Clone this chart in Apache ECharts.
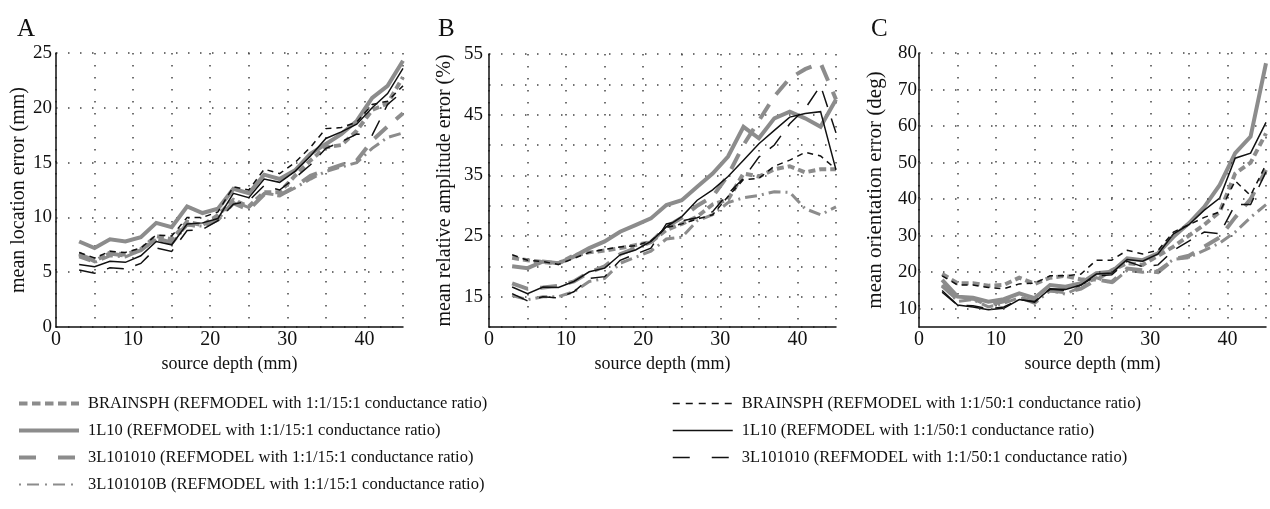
<!DOCTYPE html>
<html><head><meta charset="utf-8">
<script src="https://cdn.jsdelivr.net/npm/echarts@6/dist/echarts.min.js"></script>
<style>html,body{margin:0;padding:0;background:#fff}#c{width:1270px;height:509px}</style>
</head><body><div id="c"></div>
<script>
const depth = [3,5,7,9,11,13,15,17,19,21,23,25,27,29,31,33,35,37,39,41,43,45];
const seriesNames = [
  'BRAINSPH (REFMODEL with 1:1/15:1 conductance ratio)',
  '1L10 (REFMODEL with 1:1/15:1 conductance ratio)',
  '3L101010 (REFMODEL with 1:1/15:1 conductance ratio)',
  '3L101010B (REFMODEL with 1:1/15:1 conductance ratio)',
  'BRAINSPH (REFMODEL with 1:1/50:1 conductance ratio)',
  '1L10 (REFMODEL with 1:1/50:1 conductance ratio)',
  '3L101010 (REFMODEL with 1:1/50:1 conductance ratio)'
];
// Panel A: mean location error (mm)
const aBrain15 = [6.7,6.0,6.8,6.6,7.1,8.3,8.0,9.6,9.3,10.2,11.6,11.0,12.3,12.3,13.8,15.2,16.4,16.6,17.9,19.8,20.4,22.8];
const a1L10_15 = [7.8,7.2,8.0,7.8,8.2,9.5,9.1,11.0,10.4,10.8,12.6,12.2,13.9,13.5,14.3,15.8,16.7,17.6,18.8,20.9,22.0,24.3];
const a3L_15   = [6.6,6.1,6.7,6.5,7.0,8.1,7.7,9.4,9.1,9.8,11.3,10.7,12.1,12.0,12.8,13.8,14.3,14.8,15.2,17.0,18.3,19.5];
const a3LB_15  = [6.4,5.9,6.5,6.4,7.0,8.0,7.6,9.3,9.2,9.8,11.5,10.9,12.2,12.0,12.7,13.5,14.2,14.6,15.0,16.3,17.3,17.7];
const aBrain50 = [6.8,6.3,6.9,6.8,7.2,8.4,8.3,10.0,10.0,10.5,12.8,12.5,14.4,14.0,15.0,16.4,18.1,18.2,18.7,20.3,20.6,22.0];
const a1L10_50 = [5.7,5.5,6.0,5.9,6.5,7.8,7.5,9.4,9.5,9.9,12.2,11.8,13.5,13.2,14.2,15.6,17.2,17.8,18.5,20.0,21.3,23.6];
const a3L_50   = [5.2,4.9,5.4,5.3,5.8,7.2,6.9,8.8,8.9,9.7,11.2,11.5,12.9,12.5,13.6,14.8,16.3,16.9,17.6,17.5,20.3,21.5];
// Panel B: mean relative amplitude error (%)
const bBrain15 = [21.4,21.0,20.7,20.5,21.8,22.3,22.6,23.0,23.5,24.0,26.0,27.0,28.2,30.2,31.0,35.3,34.8,36.0,36.5,35.5,36.0,36.0];
const b1L10_15 = [20.0,19.7,20.8,20.5,21.6,23.0,24.1,25.7,26.8,27.9,30.1,30.9,33.1,35.3,38.1,43.0,41.1,44.4,45.5,44.4,43.0,47.5];
const b3L_15   = [17.2,16.3,16.5,16.8,17.5,19.0,20.0,22.0,23.0,24.0,26.5,28.0,30.0,31.5,35.0,40.0,44.0,48.0,51.0,52.5,53.5,47.5];
const b3LB_15  = [15.2,14.5,15.0,15.0,15.8,17.5,18.0,20.5,21.5,22.5,24.5,24.8,27.5,28.5,30.5,31.3,31.7,32.3,32.2,29.5,28.5,29.8];
const bBrain50 = [21.9,21.0,20.8,20.3,21.3,22.3,22.8,23.2,23.4,24.2,26.4,27.0,27.8,28.5,31.5,34.3,34.5,36.5,37.5,38.8,38.2,36.0];
const b1L10_50 = [16.6,15.5,16.6,16.5,17.5,19.1,19.7,21.9,22.7,24.1,26.5,28.2,30.9,32.6,34.8,37.5,40.2,42.4,44.6,45.2,45.5,35.9];
const b3L_50   = [15.5,14.3,15.0,14.8,15.8,18.0,18.3,21.0,22.0,23.0,27.0,27.5,28.0,29.0,32.0,34.5,38.0,40.0,43.5,46.0,49.8,42.0];
// Panel C: mean orientation error (deg)
const cBrain15 = [19.5,17.0,17.0,16.3,16.5,18.5,16.8,18.5,19.0,18.0,18.0,20.5,22.5,22.0,24.5,27.0,30.0,33.0,36.5,47.0,50.0,58.0];
const c1L10_15 = [17.9,13.3,13.0,11.9,12.6,14.2,12.9,16.5,16.0,17.0,19.7,20.1,23.8,23.3,25.2,29.7,33.4,37.9,43.9,52.6,57.1,77.2];
const c3L_15   = [16.3,12.5,12.8,11.0,12.0,13.0,12.0,15.0,14.5,15.5,18.0,17.3,21.0,20.5,20.0,23.5,24.5,27.0,29.5,35.0,40.0,48.0];
const c3LB_15  = [16.5,12.0,12.5,10.5,11.5,13.0,11.5,15.0,14.0,16.0,18.5,17.0,20.5,20.0,20.5,23.5,24.0,26.0,28.0,31.0,35.0,38.5];
const cBrain50 = [19.0,16.5,16.5,15.8,15.5,16.8,17.0,19.0,19.0,19.5,23.3,23.3,26.0,25.0,26.0,31.0,33.0,35.0,36.5,45.0,41.0,49.5];
const c1L10_50 = [15.0,11.0,10.5,9.7,10.1,12.5,11.8,15.5,15.3,16.5,19.5,19.8,23.5,23.0,25.0,30.5,33.0,37.0,40.3,51.2,52.6,61.0];
const c3L_50   = [14.5,11.0,10.8,10.0,10.5,12.5,12.0,15.3,15.0,16.5,19.0,19.3,23.0,21.5,22.0,26.0,28.5,31.0,30.5,38.5,38.5,47.5];
const cGridTicks = [10,20,30,40,50,60,70,80];

const panelData = [
  [aBrain15,a1L10_15,a3L_15,a3LB_15,aBrain50,a1L10_50,a3L_50],
  [bBrain15,b1L10_15,b3L_15,b3LB_15,bBrain50,b1L10_50,b3L_50],
  [cBrain15,c1L10_15,c3L_15,c3LB_15,cBrain50,c1L10_50,c3L_50]
];
const GRAY = '#8c8c8c', BLACK = '#111';
const styles = [
  {color:GRAY, width:4, type:[7,4], legType:[8.5,4.5], legWidth:4},
  {color:GRAY, width:4, type:'solid', legType:'solid', legWidth:4},
  {color:GRAY, width:4, type:[17,12], legType:[17,22], legWidth:4},
  {color:GRAY, width:3, type:[12,5,2,5], legType:[2,6,12,6], legWidth:2},
  {color:BLACK, width:1.5, type:[6,5], legType:[7,6], legWidth:1.5},
  {color:BLACK, width:1.5, type:'solid', legType:'solid', legWidth:1.5},
  {color:BLACK, width:1.5, type:[17,12], legType:[17,22], legWidth:1.5}
];
const FONT = 'Liberation Serif';
const dotted = {color:'#444', width:1.5, type:[1.5,10.5]};
const grids = [
  {left:56, top:53, width:347, height:274},
  {left:489, top:54, width:347, height:273},
  {left:919, top:53, width:347, height:274}
];
const yNames = ['mean location error (mm)','mean relative amplitude error (%)','mean orientation error (deg)'];
const yCfg = [
  {min:0,max:25,interval:5,fmt:v=>String(v),split:true,gap:26,margin:4,nfs:20},
  {min:10,max:55,interval:5,fmt:v=>((v-15)%10===0?String(v):''),split:true,gap:34,margin:6,nfs:20},
  {min:5,max:80,interval:5,fmt:v=>(v%10===0?String(v):''),split:false,gap:33,margin:2,nfs:21}
];
const xAxis = [], yAxis = [], series = [];
for (let p=0;p<3;p++){
  xAxis.push({type:'value', gridIndex:p, min:0, max:45, interval:5,
    name:'source depth (mm)', nameLocation:'middle', nameGap:22,
    nameTextStyle:{fontFamily:FONT,fontSize:18,color:'#111'},
    axisLine:{lineStyle:{color:'#111',width:1.5}}, axisTick:{show:false},
    axisLabel:{fontFamily:FONT,fontSize:20,color:'#111',margin:3,formatter:v=>(v%10===0?String(v):'')},
    splitLine:{show:true,lineStyle:dotted}});
  const c = yCfg[p];
  yAxis.push({type:'value', gridIndex:p, min:c.min, max:c.max, interval:c.interval,
    name:yNames[p], nameLocation:'middle', nameGap:c.gap,
    nameTextStyle:{fontFamily:FONT,fontSize:c.nfs,color:'#111'},
    axisLine:{show:true,lineStyle:{color:'#111',width:1.5}}, axisTick:{show:false},
    axisLabel:{fontFamily:FONT,fontSize:19,color:'#111',margin:c.margin,formatter:c.fmt},
    splitLine:{show:c.split,lineStyle:dotted}});
  if (!c.split){
    series.push({type:'line', xAxisIndex:p, yAxisIndex:p, data:[], silent:true, z:1,
      markLine:{silent:true, symbol:['none','none'], label:{show:false}, lineStyle:dotted, animation:false,
        data:cGridTicks.map(t=>({yAxis:t}))}});
  }
  for (let s=0;s<7;s++){
    series.push({type:'line', name:seriesNames[s], xAxisIndex:p, yAxisIndex:p,
      data:depth.map((d,i)=>[d,panelData[p][s][i]]), showSymbol:false, symbol:'none',
      lineStyle:{color:styles[s].color,width:styles[s].width,type:styles[s].type,cap:'butt',join:'miter'},
      itemStyle:{color:styles[s].color}, z:s<4?2:3, animation:false});
  }
}
const legendItems = seriesNames.map((n,s)=>({name:n,
  lineStyle:{width:styles[s].legWidth,type:styles[s].legType,color:styles[s].color,cap:'butt'}}));
const legendCommon = {orient:'vertical', padding:0, itemWidth:60, itemHeight:17, itemGap:10,
  itemStyle:{opacity:0, borderWidth:0},
  textStyle:{fontFamily:FONT,fontSize:16.5,color:'#111',padding:[0,0,0,4]}, selectedMode:false};
const option = {
  backgroundColor:'#fff', animation:false,
  title:[
    {text:'A',left:12,top:12,textStyle:{fontFamily:FONT,fontSize:25,fontWeight:'normal',color:'#111'}},
    {text:'B',left:433,top:12,textStyle:{fontFamily:FONT,fontSize:25,fontWeight:'normal',color:'#111'}},
    {text:'C',left:866,top:12,textStyle:{fontFamily:FONT,fontSize:25,fontWeight:'normal',color:'#111'}}
  ],
  grid:grids, xAxis, yAxis, series,
  legend:[
    Object.assign({left:17, top:395, data:legendItems.slice(0,4)}, legendCommon),
    Object.assign({left:672, top:395, data:legendItems.slice(4)}, legendCommon)
  ]
};
const chart = echarts.init(document.getElementById('c'));
chart.setOption(option);
</script></body></html>
